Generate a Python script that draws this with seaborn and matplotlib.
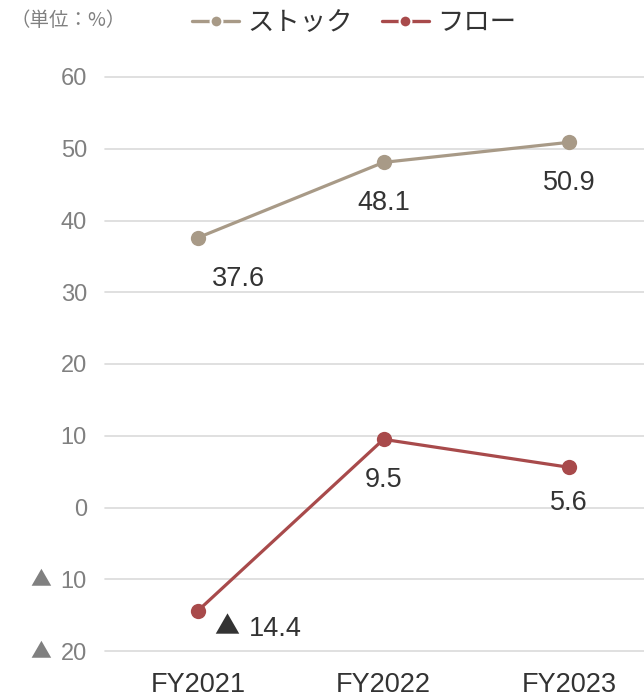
import matplotlib
matplotlib.use("Agg")
import matplotlib.pyplot as plt
from matplotlib.lines import Line2D
from matplotlib.ticker import FuncFormatter
from matplotlib.transforms import blended_transform_factory, offset_copy
import seaborn as sns
import pandas as pd

years = ["FY2021", "FY2022", "FY2023"]
stock = [37.6, 48.1, 50.9]
flow = [-14.4, 9.5, 5.6]
series_names = ["ストック", "フロー"]
y_ticks = [-20, -10, 0, 10, 20, 30, 40, 50, 60]

stock_color = "#A89A87"
flow_color = "#A84A4B"
tri_font = ["Noto Sans CJK JP", "DejaVu Sans"]

sns.set_theme(style="white")
plt.rcParams["font.family"] = ["Liberation Sans", "Noto Sans CJK JP", "DejaVu Sans"]

df = pd.DataFrame({
    "year": years * 2,
    "value": stock + flow,
    "series": [series_names[0]] * 3 + [series_names[1]] * 3,
})
df["x"] = df["year"].map({y: i for i, y in enumerate(years)})

fig = plt.figure(figsize=(6.44, 6.96), dpi=100)
ax = fig.add_axes([105 / 644, 1 - 651 / 696, 1 - 105 / 644, (651 - 77) / 696])

sns.lineplot(data=df, x="x", y="value", hue="series",
             palette={series_names[0]: stock_color, series_names[1]: flow_color},
             marker="o", markersize=11, markeredgewidth=0, linewidth=2.3,
             legend=False, ax=ax, zorder=3)

ax.set_xlim(-0.5, 2.403)
ax.set_ylim(-20, 60)
ax.set_yticks(y_ticks)
# negative values are written as a triangle followed by the magnitude
ax.yaxis.set_major_formatter(FuncFormatter(lambda v, p: f"{abs(int(v))}"))
ax.set_xticks(range(len(years)))
ax.set_xticklabels(years)
ax.grid(axis="y", color="#DADADA", linewidth=1.2)
ax.grid(axis="x", visible=False)
for gl in ax.get_ygridlines():
    gl.set_clip_on(False)
for s in ax.spines.values():
    s.set_visible(False)
ax.tick_params(axis="y", length=0, pad=13, labelsize=17, labelcolor="#808080")
ax.tick_params(axis="x", length=0, pad=15, labelsize=19.5, labelcolor="#333333")
ax.set_xlabel("")
ax.set_ylabel("")

# triangle markers in front of the negative tick labels
tri_trans = blended_transform_factory(fig.transFigure, ax.transData)
for t in y_ticks:
    if t < 0:
        ax.text(41 / 644, t, "▲", transform=tri_trans, ha="center", va="center",
                fontsize=15, color="#808080", family=tri_font)

stock_offsets = [(29.5, -29.5), (0, -29), (0, -29)]
flow_offsets = [(0, -29), (0, -26)]
for i, (v, off) in enumerate(zip(stock, stock_offsets)):
    ax.annotate(f"{v:.1f}", (i, v), xytext=off, textcoords="offset points",
                ha="center", va="center", fontsize=19.5, color="#333333")
for i, v in enumerate(flow):
    if v < 0:
        ax.annotate("▲", (i, v), xytext=(20.5, -12), textcoords="offset points",
                    ha="center", va="center", fontsize=18, color="#333333",
                    family=tri_font)
        ax.annotate(f"{abs(v):.1f}", (i, v), xytext=(56, -13), textcoords="offset points",
                    ha="center", va="center", fontsize=19.5, color="#333333")
    else:
        ax.annotate(f"{v:.1f}", (i, v), xytext=flow_offsets[i - 1], textcoords="offset points",
                    ha="center", va="center", fontsize=19.5, color="#333333")

handles = [
    Line2D([], [], color=stock_color, marker="o", markersize=8.5, linewidth=2.4,
           markeredgecolor="white", markeredgewidth=1.5),
    Line2D([], [], color=flow_color, marker="o", markersize=8.5, linewidth=2.4,
           markeredgecolor="white", markeredgewidth=1.5),
]
fig.legend(handles, series_names, loc="center", bbox_to_anchor=(354 / 644, 1 - 23 / 696),
           ncol=2, frameon=False, handlelength=1.8, handletextpad=0.3,
           columnspacing=1.1, labelcolor="#333333",
           prop={"family": ["Noto Sans CJK JP", "DejaVu Sans"], "size": 19})

fig.text(10 / 644, 1 - 20 / 696, "（単位：%）", ha="left", va="center",
         fontsize=14, color="#808080", family=["Noto Sans CJK JP", "DejaVu Sans"])

fig.savefig("out.png", dpi=100)
